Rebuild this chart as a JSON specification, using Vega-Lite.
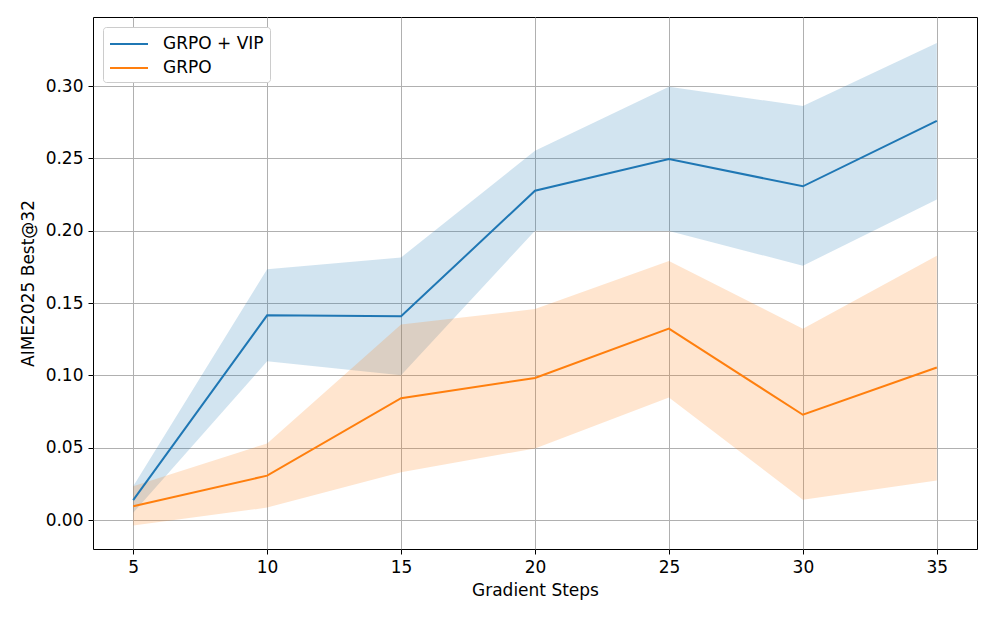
{
  "$schema": "https://vega.github.io/schema/vega-lite/v6.json",
  "autosize": {"type": "none"},
  "padding": {"left": 93, "top": 17, "right": 19, "bottom": 74},
  "width": 884,
  "height": 532,
  "background": "white",
  "data": {
    "values": [
      {"series": "GRPO + VIP", "step": 5, "mean": 0.0138, "lo": 0.005, "hi": 0.0233},
      {"series": "GRPO + VIP", "step": 10, "mean": 0.1415, "lo": 0.1097, "hi": 0.1734},
      {"series": "GRPO + VIP", "step": 15, "mean": 0.1408, "lo": 0.1001, "hi": 0.1815},
      {"series": "GRPO + VIP", "step": 20, "mean": 0.2276, "lo": 0.2000, "hi": 0.2552},
      {"series": "GRPO + VIP", "step": 25, "mean": 0.2495, "lo": 0.1998, "hi": 0.2995},
      {"series": "GRPO + VIP", "step": 30, "mean": 0.2307, "lo": 0.1758, "hi": 0.2862},
      {"series": "GRPO + VIP", "step": 35, "mean": 0.2759, "lo": 0.2215, "hi": 0.3297},
      {"series": "GRPO", "step": 5, "mean": 0.0095, "lo": -0.0038, "hi": 0.0233},
      {"series": "GRPO", "step": 10, "mean": 0.0307, "lo": 0.0086, "hi": 0.053},
      {"series": "GRPO", "step": 15, "mean": 0.0842, "lo": 0.0331, "hi": 0.1351},
      {"series": "GRPO", "step": 20, "mean": 0.0982, "lo": 0.0495, "hi": 0.1458},
      {"series": "GRPO", "step": 25, "mean": 0.1323, "lo": 0.0847, "hi": 0.1791},
      {"series": "GRPO", "step": 30, "mean": 0.0728, "lo": 0.014, "hi": 0.1323},
      {"series": "GRPO", "step": 35, "mean": 0.1054, "lo": 0.0274, "hi": 0.1827}
    ]
  },
  "encoding": {
    "x": {
      "field": "step", "type": "quantitative",
      "scale": {"domain": [3.5, 36.5], "nice": false, "zero": false},
      "axis": {"values": [5, 10, 15, 20, 25, 30, 35], "title": "Gradient Steps"}
    }
  },
  "layer": [
    {
      "mark": {"type": "area", "opacity": 0.2},
      "encoding": {
        "y": {
          "field": "lo", "type": "quantitative",
          "scale": {"domain": [-0.02, 0.3477], "nice": false, "zero": false},
          "axis": {"values": [0, 0.05, 0.1, 0.15, 0.2, 0.25, 0.3], "format": ".2f", "title": "AIME2025 Best@32"}
        },
        "y2": {"field": "hi"},
        "color": {
          "field": "series", "type": "nominal",
          "scale": {"domain": ["GRPO + VIP", "GRPO"], "range": ["#1f77b4", "#ff7f0e"]},
          "legend": null
        }
      }
    },
    {
      "mark": {"type": "line", "strokeWidth": 2},
      "encoding": {
        "y": {"field": "mean", "type": "quantitative"},
        "color": {
          "field": "series", "type": "nominal",
          "scale": {"domain": ["GRPO + VIP", "GRPO"], "range": ["#1f77b4", "#ff7f0e"]},
          "legend": {
            "title": null,
            "orient": "top-left",
            "offset": 10,
            "symbolType": "M-1,0H2.8",
            "symbolSize": 400,
            "symbolStrokeWidth": 2,
            "labelFontSize": 17,
            "labelFont": "DejaVu Sans",
            "labelColor": "black",
            "strokeColor": "#cccccc",
            "fillColor": "white",
            "cornerRadius": 3,
            "padding": 6,
            "rowPadding": 5,
            "labelOffset": 32
          }
        }
      }
    }
  ],
  "resolve": {"legend": {"color": "independent"}},
  "config": {
    "view": {"stroke": "black", "strokeWidth": 1},
    "axis": {
      "labelFont": "DejaVu Sans",
      "titleFont": "DejaVu Sans",
      "labelFontSize": 17,
      "titleFontSize": 17,
      "titleFontWeight": "normal",
      "labelColor": "black",
      "titleColor": "black",
      "grid": true,
      "gridColor": "#b0b0b0",
      "gridWidth": 1,
      "domain": false,
      "tickColor": "black",
      "tickSize": 5,
      "labelPadding": 5
    },
    "axisX": {"titlePadding": 7},
    "axisY": {"titlePadding": 8}
  }
}
